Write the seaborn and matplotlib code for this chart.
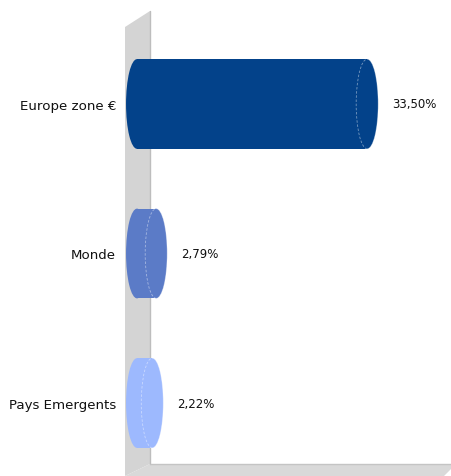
import matplotlib
matplotlib.use("Agg")
import matplotlib.pyplot as plt
from matplotlib.patches import Ellipse, Arc, Polygon
import seaborn as sns
import pandas as pd

categories = ["Europe zone €", "Monde", "Pays Emergents"]
values = [33.50, 2.79, 2.22]
value_labels = ["33,50%", "2,79%", "2,22%"]
colors = ["#03428A", "#5B7BC7", "#9DB9FE"]

W, H = 451, 477
sns.set_theme(style="white")
plt.rcParams["font.family"] = ["DejaVu Sans"]

fig = plt.figure(figsize=(W / 100, H / 100), dpi=100)
ax = fig.add_axes([125 / W, 0, (W - 125) / W, 1])
ax.set_facecolor("none")

df = pd.DataFrame({"cat": categories, "val": values})
sns.barplot(data=df, x="val", y="cat", hue="cat", palette=colors, orient="h",
            width=0.6, legend=False, ax=ax, saturation=1, linewidth=0, zorder=3)
bars = list(ax.patches)

ax.set_xlim(-1.75, 45.7)
ax.set_ylim(2.488, -0.702)


def fp(x, y):
    return (x / W, 1 - y / H)


# 3D wall and floor (decoration)
wall = Polygon([fp(125, 477), fp(125, 28), fp(150, 12), fp(150, 465)], closed=True,
               transform=fig.transFigure, facecolor="#D4D4D4", edgecolor="none",
               zorder=0, clip_on=False)
floor = Polygon([fp(150, 465), fp(456, 465), fp(444, 477), fp(125, 477)], closed=True,
                transform=fig.transFigure, facecolor="#D9D9D9", edgecolor="none",
                zorder=0, clip_on=False)
ax.add_patch(wall)
ax.add_patch(floor)
ax.plot([150 / W, 150 / W], [1 - 12 / H, 1 - 465 / H], transform=fig.transFigure,
        color="#BDBDBD", lw=1, zorder=0.5, clip_on=False)
ax.plot([150 / W, 456 / W], [1 - 465 / H, 1 - 465 / H], transform=fig.transFigure,
        color="#C4C4C4", lw=1, zorder=0.5, clip_on=False)

cap_w = 3.2
for p, lab in zip(bars, value_labels):
    col = p.get_facecolor()
    y0 = p.get_y()
    h = p.get_height()
    v = p.get_width()
    yc = y0 + h / 2
    ax.add_patch(Ellipse((0, yc), cap_w, h, facecolor=col, edgecolor="none", zorder=2.9))
    ax.add_patch(Ellipse((v, yc), cap_w, h, facecolor=col, edgecolor="none", zorder=3.1))
    ax.add_patch(Arc((v, yc), cap_w, h, theta1=90, theta2=270, edgecolor="#FFFFFF",
                     lw=0.6, ls=(0, (3, 2)), alpha=0.45, zorder=3.2))
    ax.add_patch(Arc((v, yc), cap_w, h, theta1=-90, theta2=90, edgecolor="#FFFFFF",
                     lw=0.6, alpha=0.35, zorder=3.2))
    ax.annotate(lab, xy=(v + cap_w / 2, yc), xytext=(10, 0), textcoords="offset points",
                ha="left", va="center", fontsize=8.5, color="#111111")

ax.set_xlabel("")
ax.set_ylabel("")
ax.set_xticks([])
ax.tick_params(axis="y", length=0, pad=6.5, labelsize=9.6, labelcolor="#111111")
for s in ax.spines.values():
    s.set_visible(False)

fig.savefig("out.png", dpi=100)
